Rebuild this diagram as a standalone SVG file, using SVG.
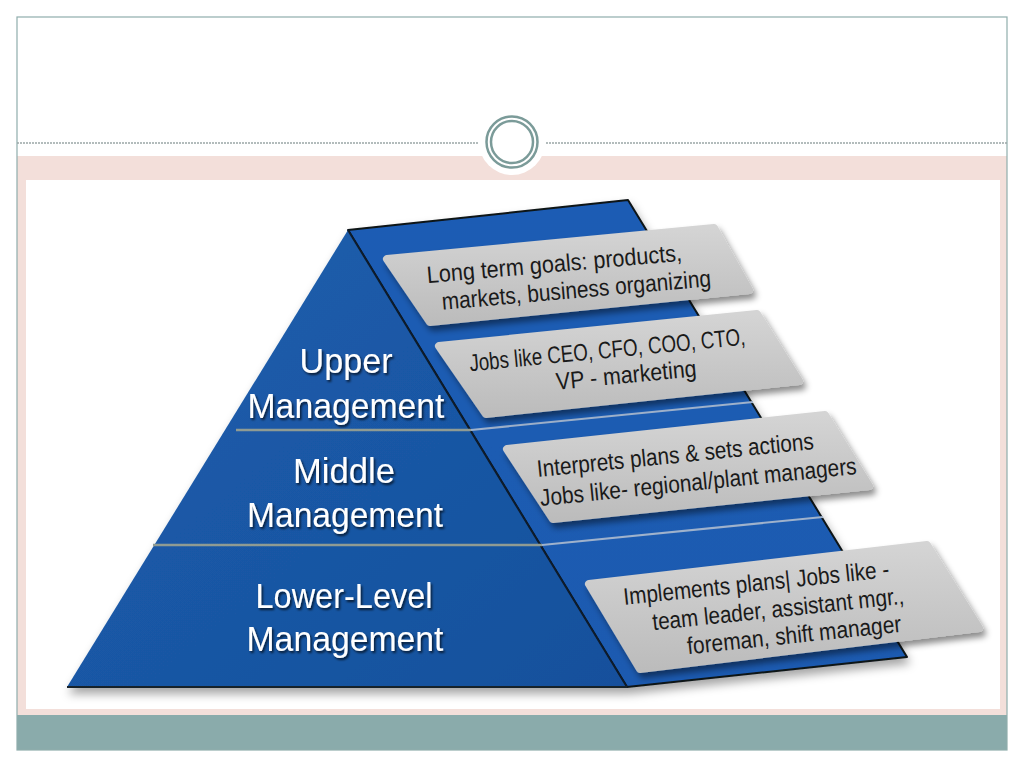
<svg xmlns="http://www.w3.org/2000/svg" width="1024" height="768" viewBox="0 0 1024 768">
<style>
.tier{font-family:"Liberation Sans","Open Sans",sans-serif;font-size:35px;fill:#ffffff;text-anchor:middle;filter:url(#ts)}
.lbl{font-family:"Liberation Sans","Open Sans",sans-serif;font-size:24px;fill:#1a1a1a;text-anchor:middle}
.card{fill:url(#cg);stroke:url(#cg);stroke-width:8;stroke-linejoin:round;filter:url(#cs)}
.div{stroke:#8f9b93;stroke-width:2.5;fill:none}
.sdiv{stroke:#9fb2cc;stroke-width:2;fill:none}
</style>
<defs>
<linearGradient id="cg" x1="0" y1="0" x2="0" y2="1">
<stop offset="0" stop-color="#d4d4d4"/>
<stop offset="1" stop-color="#bcbcbc"/>
</linearGradient>
<linearGradient id="fg" x1="0" y1="0" x2="1" y2="1">
<stop offset="0" stop-color="#1d5fae"/>
<stop offset="1" stop-color="#16509c"/>
</linearGradient>
<linearGradient id="sg" x1="0" y1="0" x2="0" y2="1">
<stop offset="0" stop-color="#1b5cb4"/>
<stop offset="1" stop-color="#1a5ab0"/>
</linearGradient>
<filter id="cs" x="-10%" y="-20%" width="130%" height="160%">
<feDropShadow dx="3" dy="5" stdDeviation="3" flood-color="#000" flood-opacity="0.45"/>
</filter>
<filter id="ps" x="-10%" y="-10%" width="130%" height="130%">
<feDropShadow dx="2" dy="6" stdDeviation="5" flood-color="#000" flood-opacity="0.35"/>
</filter>
<filter id="ts" x="-10%" y="-20%" width="130%" height="150%">
<feDropShadow dx="1.5" dy="2" stdDeviation="1.2" flood-color="#000" flood-opacity="0.7"/>
</filter>
</defs>

<!-- slide frame -->
<rect x="0" y="0" width="1024" height="768" fill="#ffffff"/>
<rect x="17" y="156" width="990" height="559" fill="#f3dfda"/>
<rect x="26" y="180" width="974" height="529" fill="#ffffff"/>
<rect x="17" y="715" width="990" height="35" fill="#8aabab"/>
<rect x="17" y="17" width="990" height="733" fill="none" stroke="#8fadac" stroke-width="1.2"/>
<line x1="17" y1="143" x2="478" y2="143" stroke="#9aa6a6" stroke-width="1.3" stroke-dasharray="2 1"/>
<line x1="546" y1="143" x2="1007" y2="143" stroke="#9aa6a6" stroke-width="1.3" stroke-dasharray="2 1"/>
<g id="ornament">
<circle cx="512" cy="142" r="33" fill="#ffffff"/>
<circle cx="512" cy="142" r="25.5" fill="#ffffff" stroke="#7b9b99" stroke-width="2.5"/>
<circle cx="512" cy="142" r="21" fill="none" stroke="#7b9b99" stroke-width="2.5"/>
</g>

<!-- pyramid -->
<g id="pyramid" filter="url(#ps)">
<polygon points="348,230 628,200 907,657 627,687" fill="url(#sg)" stroke="#101418" stroke-width="2" stroke-linejoin="round"/>
<polygon points="348,230 627,687 67,687" fill="url(#fg)"/>
<line x1="348" y1="230" x2="627" y2="687" stroke="#0e1a2a" stroke-width="2"/>
<line x1="67" y1="687" x2="627" y2="687" stroke="#15202c" stroke-width="2"/>
</g>
<g id="dividers">
<line class="div" x1="236" y1="430" x2="471" y2="430"/>
<line class="sdiv" x1="471" y1="430" x2="753" y2="402"/>
<line class="div" x1="153" y1="545" x2="542" y2="545"/>
<line class="sdiv" x1="542" y1="545" x2="823" y2="517"/>
</g>

<g id="tier-upper">
<text class="tier" x="346" y="373" textLength="93" lengthAdjust="spacingAndGlyphs">Upper</text>
<text class="tier" x="346" y="418" textLength="197" lengthAdjust="spacingAndGlyphs">Management</text>
</g>
<g id="tier-middle">
<text class="tier" x="344" y="483" textLength="102" lengthAdjust="spacingAndGlyphs">Middle</text>
<text class="tier" x="345" y="527" textLength="196" lengthAdjust="spacingAndGlyphs">Management</text>
</g>
<g id="tier-lower">
<text class="tier" x="344" y="608" textLength="177" lengthAdjust="spacingAndGlyphs">Lower-Level</text>
<text class="tier" x="345" y="651" textLength="197" lengthAdjust="spacingAndGlyphs">Management</text>
</g>

<!-- labels -->
<g id="label-goals">
<path class="card" d="M387,259 L714,228 L749,290 L430,322 Z"/>
<text class="lbl" transform="rotate(-5 555 272)" x="555" y="272" textLength="256" lengthAdjust="spacingAndGlyphs">Long term goals: products,</text>
<text class="lbl" transform="rotate(-5 577 298)" x="577" y="298" textLength="270" lengthAdjust="spacingAndGlyphs">markets, business organizing</text>
</g>
<g id="label-jobs-upper">
<path class="card" d="M439,346 L757,314 L799,381 L486,414 Z"/>
<text class="lbl" transform="rotate(-5.5 608 358)" x="608" y="358" textLength="277" lengthAdjust="spacingAndGlyphs">Jobs like CEO, CFO, COO, CTO,</text>
<text class="lbl" transform="rotate(-5.5 627 383)" x="627" y="383" textLength="141" lengthAdjust="spacingAndGlyphs">VP - marketing</text>
</g>
<g id="label-middle">
<path class="card" d="M507,449 L825,415 L869,486 L553,519 Z"/>
<text class="lbl" transform="rotate(-5.8 676 463)" x="676" y="463" textLength="278" lengthAdjust="spacingAndGlyphs">Interprets plans &amp; sets actions</text>
<text class="lbl" transform="rotate(-5.8 699 490)" x="699" y="490" textLength="318" lengthAdjust="spacingAndGlyphs">Jobs like- regional/plant managers</text>
</g>
<g id="label-lower">
<path class="card" d="M589,584 L927,545 L979,628 L640,669 Z"/>
<text class="lbl" transform="rotate(-6 757 591)" x="757" y="591" textLength="267" lengthAdjust="spacingAndGlyphs">Implements plans| Jobs like -</text>
<text class="lbl" transform="rotate(-6 779 617)" x="779" y="617" textLength="253" lengthAdjust="spacingAndGlyphs">team leader, assistant mgr.,</text>
<text class="lbl" transform="rotate(-6 795 643)" x="795" y="643" textLength="215" lengthAdjust="spacingAndGlyphs">foreman, shift manager</text>
</g>
</svg>
